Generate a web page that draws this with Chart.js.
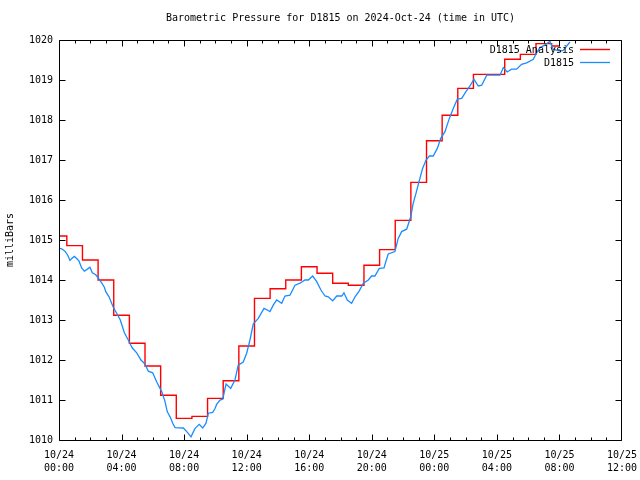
<!DOCTYPE html>
<html><head><meta charset="utf-8">
<script src="https://cdn.jsdelivr.net/npm/chart.js@4.4.1/dist/chart.umd.min.js"></script>
<style>html,body{margin:0;padding:0;background:#fff}#wrap{width:640px;height:480px}</style>
</head><body><div id="wrap"><canvas id="c" width="640" height="480"></canvas></div>
<script>
const titleText = 'Barometric Pressure for D1815 on 2024-Oct-24 (time in UTC)';
const yAxisLabel = 'milliBars';
const seriesNames = ['D1815 Analysis', 'D1815'];
const seriesColors = ['#ff0000', '#1a8cff'];
const xTickLabels = [['10/24','00:00'],['10/24','04:00'],['10/24','08:00'],['10/24','12:00'],['10/24','16:00'],
                     ['10/24','20:00'],['10/25','00:00'],['10/25','04:00'],['10/25','08:00'],['10/25','12:00']];
const yTickValues = [1010,1011,1012,1013,1014,1015,1016,1017,1018,1019,1020];

// hours since 2024-10-24 00:00 UTC
const analysisHours = [0,1,2,3,4,5,6,7,8,9,10,11,12,13,14,15,16,17,18,19,20,21,22,23,24,25,26,27,28,29,30,31,32];
const analysisValues = [1015.10,1014.86,1014.50,1014.00,1013.12,1012.42,1011.85,1011.12,1010.54,1010.59,
                        1011.04,1011.48,1012.35,1013.54,1013.78,1014.00,1014.33,1014.17,1013.92,1013.87,
                        1014.37,1014.76,1015.49,1016.44,1017.48,1018.12,1018.79,1019.14,1019.14,1019.52,
                        1019.64,1019.91,1019.85];

const obsHours = [0,0.17,0.38,0.56,0.70,0.85,0.98,1.15,1.28,1.45,1.62,1.77,1.98,2.13,2.35,2.51,2.73,2.90,2.99,
  3.20,3.47,3.69,3.92,4.18,4.43,4.58,4.69,4.97,5.24,5.50,5.71,5.99,6.25,6.57,6.78,6.92,7.14,7.27,7.42,
  7.95,8.17,8.44,8.70,8.97,9.19,9.40,9.55,9.83,9.97,10.08,10.29,10.47,10.68,10.98,11.25,11.46,11.78,
  12.00,12.21,12.42,12.74,13.11,13.32,13.49,13.70,13.92,14.24,14.45,14.77,15.09,15.41,15.73,15.94,
  16.22,16.48,16.75,17.01,17.22,17.50,17.76,18.08,18.22,18.43,18.71,18.93,19.20,19.46,19.78,19.99,
  20.20,20.48,20.78,21.05,21.48,21.69,21.91,22.23,22.49,22.65,22.83,23.02,23.25,23.47,23.68,23.93,
  24.19,24.41,24.68,24.96,25.21,25.47,25.75,26.02,26.28,26.53,26.81,27.03,27.35,28.20,28.41,28.66,
  28.94,29.26,29.58,29.90,30.33,30.54,30.75,31.07,31.39,31.60,32.03,32.24,32.67];
const obsValues = [1014.80,1014.78,1014.72,1014.62,1014.49,1014.55,1014.59,1014.53,1014.47,1014.30,1014.22,
  1014.26,1014.32,1014.18,1014.13,1014.05,1013.93,1013.82,1013.71,
  1013.58,1013.32,1013.17,1013.00,1012.68,1012.50,1012.38,1012.30,1012.18,1012.00,1011.90,1011.72,1011.68,
  1011.45,1011.21,1010.96,1010.71,1010.55,1010.42,1010.31,
  1010.30,1010.21,1010.08,1010.29,1010.39,1010.30,1010.42,1010.67,1010.69,1010.78,1010.89,1011.00,1011.02,
  1011.40,1011.29,1011.50,1011.87,1011.95,
  1012.17,1012.50,1012.90,1013.04,1013.29,1013.25,1013.21,1013.37,1013.50,1013.42,1013.60,1013.62,1013.87,
  1013.92,1014.00,1014.00,
  1014.10,1013.96,1013.75,1013.60,1013.58,1013.48,1013.60,1013.60,1013.68,1013.50,1013.42,1013.58,1013.73,
  1013.92,1014.00,1014.10,
  1014.10,1014.29,1014.30,1014.65,1014.71,1015.04,1015.21,1015.27,1015.58,1015.92,1016.17,1016.46,1016.79,
  1017.00,1017.10,1017.10,
  1017.29,1017.54,1017.71,1018.04,1018.29,1018.52,1018.54,1018.71,1018.85,1019.02,1018.85,1018.87,1019.12,
  1019.12,1019.31,1019.20,
  1019.27,1019.27,1019.39,1019.43,1019.52,1019.68,1019.81,1019.87,1019.97,1019.77,1019.72,1019.74,1019.95];

const FONT = '"DejaVu Sans Mono", "Liberation Mono", monospace';

const framePlugin = {
  id: 'frame',
  afterDatasetsDraw(chart) {
    const {ctx, chartArea: a, scales: {x, y}} = chart;
    ctx.save();
    ctx.strokeStyle = '#000';
    ctx.lineWidth = 1;
    const L = a.left + 0.5, R = a.right - 0.5, T = a.top + 0.5, B = a.bottom + 0.5;
    ctx.beginPath();
    ctx.moveTo(L, T); ctx.lineTo(R, T); ctx.lineTo(R, B); ctx.lineTo(L, B); ctx.closePath();
    // y ticks (mirrored)
    yTickValues.forEach(v => {
      const py = Math.round(y.getPixelForValue(v)) + 0.5;
      ctx.moveTo(L, py); ctx.lineTo(L + 6, py);
      ctx.moveTo(R, py); ctx.lineTo(R - 6, py);
    });
    // x ticks: major every 4h, minor every 1h (mirrored)
    for (let h = x.min; h <= x.max; h += 1) {
      const px = Math.min(Math.round(x.getPixelForValue(h)) + 0.5, R);
      const len = (h % 4 === 0) ? 6 : 3;
      ctx.moveTo(px, B); ctx.lineTo(px, B - len);
      ctx.moveTo(px, T); ctx.lineTo(px, T + len);
    }
    ctx.stroke();
    // legend (top right, text right-aligned before sample line)
    ctx.font = '10px ' + FONT;
    ctx.textAlign = 'right';
    ctx.textBaseline = 'middle';
    ctx.fillStyle = '#000';
    chart.data.datasets.forEach((ds, i) => {
      const yy = a.top + 10 + i * 13;
      ctx.fillText(ds.label, a.right - 48, yy);
      ctx.beginPath();
      ctx.strokeStyle = ds.borderColor;
      ctx.lineWidth = ds.borderWidth;
      ctx.moveTo(a.right - 42, Math.round(yy) - 0.5);
      ctx.lineTo(a.right - 12, Math.round(yy) - 0.5);
      ctx.stroke();
    });
    ctx.restore();
  }
};

new Chart(document.getElementById('c'), {
  type: 'line',
  data: {
    datasets: [
      {
        label: seriesNames[0],
        data: analysisHours.map((h, i) => ({x: h, y: analysisValues[i]})),
        borderColor: seriesColors[0], borderWidth: 1.4, pointRadius: 0,
        stepped: 'middle', order: 1, fill: false
      },
      {
        label: seriesNames[1],
        data: obsHours.map((h, i) => ({x: h, y: obsValues[i]})),
        borderColor: seriesColors[1], borderWidth: 1.3, pointRadius: 0,
        tension: 0, order: 0, fill: false
      }
    ]
  },
  options: {
    responsive: false,
    animation: false,
    devicePixelRatio: 1,
    layout: {padding: {left: 0, right: 18, top: 0, bottom: 0}},
    plugins: {
      legend: {display: false},
      tooltip: {enabled: false},
      title: {
        display: true, text: titleText, fullSize: false, color: '#000',
        font: {family: FONT, size: 10, weight: 'normal', lineHeight: 1.2},
        padding: {top: 12, bottom: 16}
      }
    },
    scales: {
      x: {
        type: 'linear', min: 0, max: 36,
        grid: {display: false, drawTicks: false}, border: {display: false},
        ticks: {
          stepSize: 4, autoSkip: false, maxRotation: 0, color: '#000', padding: 9,
          font: {family: FONT, size: 10, lineHeight: 1.3},
          callback: (v) => xTickLabels[Math.round(v / 4)]
        },
        afterFit: (s) => { s.height = 40; s.paddingLeft = 0; s.paddingRight = 0; }
      },
      y: {
        type: 'linear', min: 1010, max: 1020,
        grid: {display: false, drawTicks: false}, border: {display: false},
        ticks: {
          stepSize: 1, color: '#000', padding: 6,
          font: {family: FONT, size: 10},
          callback: (v) => String(v)
        },
        title: {
          display: true, text: yAxisLabel, color: '#000',
          font: {family: FONT, size: 10, lineHeight: 1.2},
          padding: {top: 4, bottom: 0}
        },
        afterFit: (s) => { s.width = 59; s.paddingTop = 0; s.paddingBottom = 0; }
      }
    }
  },
  plugins: [framePlugin]
});
</script></body></html>
